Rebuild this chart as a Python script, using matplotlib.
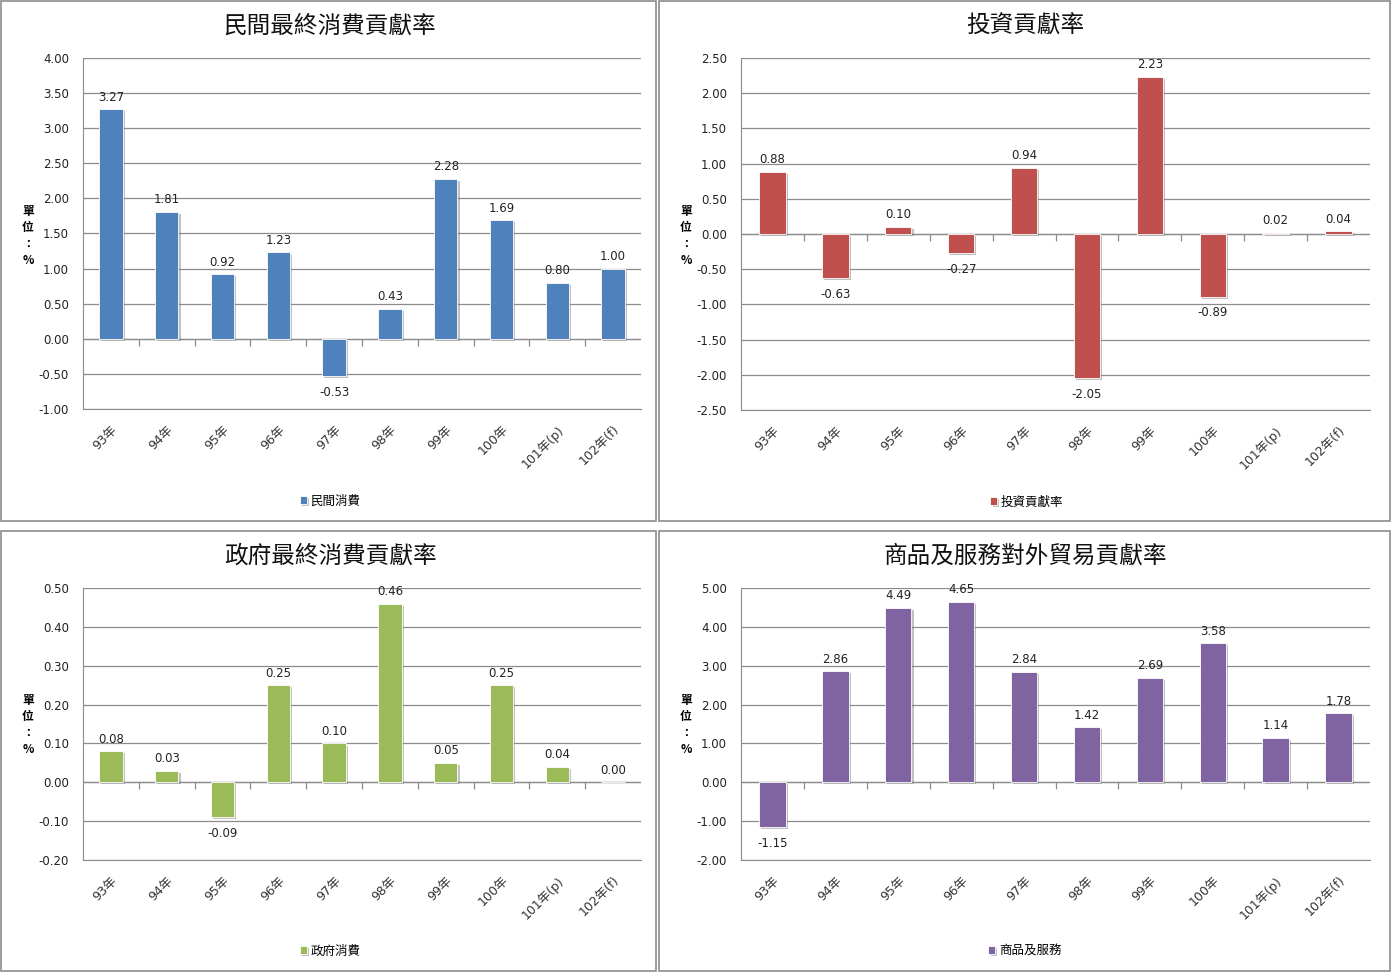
import numpy as np
import matplotlib
matplotlib.use('Agg')
import matplotlib.pyplot as plt
import matplotlib.patheffects as pe
from matplotlib.patches import Rectangle

plt.rcParams['font.family'] = ['DejaVu Sans', 'Noto Sans CJK TC']

years = ['93年', '94年', '95年', '96年', '97年', '98年', '99年', '100年', '101年(p)', '102年(f)']

consumption = [3.27, 1.81, 0.92, 1.23, -0.53, 0.43, 2.28, 1.69, 0.80, 1.00]
investment = [0.88, -0.63, 0.10, -0.27, 0.94, -2.05, 2.23, -0.89, 0.02, 0.04]
government = [0.08, 0.03, -0.09, 0.25, 0.10, 0.46, 0.05, 0.25, 0.04, 0.00]
trade = [-1.15, 2.86, 4.49, 4.65, 2.84, 1.42, 2.69, 3.58, 1.14, 1.78]

titles = ['民間最終消費貢獻率', '投資貢獻率', '政府最終消費貢獻率', '商品及服務對外貿易貢獻率']
legends = ['民間消費', '投資貢獻率', '政府消費', '商品及服務']
colors = ['#4F81BD', '#C0504D', '#9BBB59', '#8064A2']
yticks = [np.arange(-1.0, 4.01, 0.5), np.arange(-2.5, 2.51, 0.5),
          np.arange(-0.2, 0.501, 0.1), np.arange(-2.0, 5.01, 1.0)]

W, H = 1392, 973
fig = plt.figure(figsize=(W / 100, H / 100), dpi=100)

# panel frames (pixels: x0, y0, x1, y1)
frames = [(1, 1, 656, 521), (659, 1, 1390, 521), (1, 531, 656, 971), (659, 531, 1390, 971)]
# axes boxes in pixels (left, top, right, bottom)
boxes = [(83, 58, 641, 409), (741, 58, 1370, 410), (83, 588, 641, 860), (741, 588, 1370, 860)]
title_pos = [(330, 26), (1025, 26), (330, 556), (1025, 556)]
ylab_pos = [(28, 236), (686, 236), (28, 725), (686, 725)]
leg_pos = [(330, 501), (1027, 502), (330, 951), (1025, 951)]

series = [consumption, investment, government, trade]

for k in range(4):
    x0, y0, x1, y1 = frames[k]
    fig.add_artist(Rectangle((x0 / W, 1 - y1 / H), (x1 - x0) / W, (y1 - y0) / H,
                             transform=fig.transFigure, fill=False,
                             edgecolor='#8c8c8c', linewidth=1.2))
    l, t, r, b = boxes[k]
    ax = fig.add_axes([l / W, 1 - b / H, (r - l) / W, (b - t) / H])
    xs = np.arange(len(years))
    vals = series[k]
    bars = ax.bar(xs, vals, width=0.42, color=colors[k], edgecolor='white',
                  linewidth=0.6, zorder=3, label=legends[k])
    for p in bars:
        p.set_path_effects([pe.SimplePatchShadow(offset=(1.5, -1.5), shadow_rgbFace='#777777', alpha=0.45),
                            pe.Normal()])
    # labels above positive bars, a bit further below negative ones
    ax.bar_label(bars, labels=['%.2f' % v if v >= 0 else '' for v in vals],
                 padding=4, fontsize=8.5, color='#222222')
    ax.bar_label(bars, labels=['%.2f' % v if v < 0 else '' for v in vals],
                 padding=7, fontsize=8.5, color='#222222')
    ax.set_xlim(-0.5, len(years) - 0.5)
    ax.set_ylim(yticks[k][0], yticks[k][-1])
    ax.set_yticks(yticks[k])
    ax.set_yticklabels(['%.2f' % v for v in yticks[k]], fontsize=8.5, color='#222222')
    ax.yaxis.grid(True, color='#8c8c8c', linewidth=0.9, zorder=0)
    ax.set_axisbelow(True)
    ax.tick_params(axis='y', length=0, pad=10)
    ax.set_xticks(xs)
    ax.set_xticklabels(years, rotation=45, ha='right', rotation_mode='anchor',
                       fontsize=9, color='#333333')
    ax.tick_params(axis='x', length=0, pad=10)
    for s in ['top', 'right']:
        ax.spines[s].set_visible(False)
    ax.spines['left'].set_color('#8c8c8c')
    ax.spines['bottom'].set_color('#8c8c8c')
    # category axis at zero with small tick marks between categories
    ax.axhline(0, color='#8c8c8c', linewidth=0.9, zorder=2)
    ax.plot(xs[:-1] + 0.5, np.zeros(len(xs) - 1), ls='', marker=3, ms=5,
            color='#8c8c8c', mew=0.9, zorder=2)
    ax.legend(loc='center', bbox_to_anchor=(leg_pos[k][0] / W, 1 - leg_pos[k][1] / H),
              bbox_transform=fig.transFigure, frameon=False,
              handlelength=0.55, handleheight=0.55, handletextpad=0.3,
              prop={'family': ['Noto Sans CJK TC'], 'size': 9})
    fig.text(title_pos[k][0] / W, 1 - title_pos[k][1] / H, titles[k],
             ha='center', va='center', fontsize=17, family=['Noto Sans CJK TC'],
             color='#111111')
    fig.text(ylab_pos[k][0] / W, 1 - ylab_pos[k][1] / H, '單\n位\n：\n%',
             ha='center', va='center', fontsize=8.5, fontweight='bold',
             family=['Noto Sans CJK TC', 'DejaVu Sans'], linespacing=1.35)

fig.savefig('out.png', dpi=100)
